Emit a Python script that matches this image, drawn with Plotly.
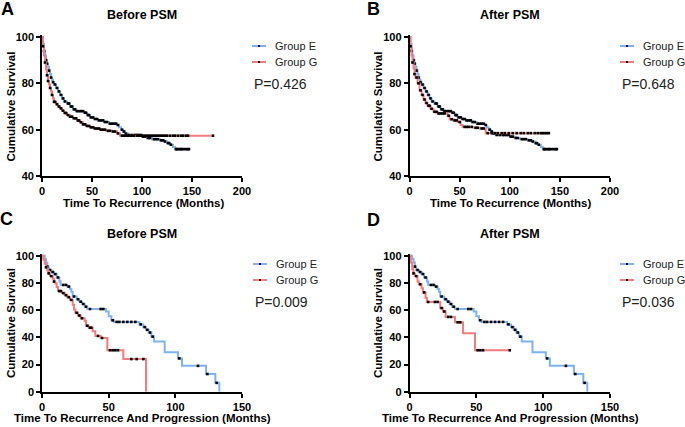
import plotly.graph_objects as go
from plotly.subplots import make_subplots

# ---- Kaplan-Meier step data ----
# Panel A / B : time to recurrence
rec_e_time = [0, 1, 2, 3, 4, 5, 6, 7, 8, 9, 10, 11, 12, 14, 16, 18, 20, 22, 25, 28, 31, 34, 42, 45, 48,
              52, 56, 62, 67, 75, 77, 79, 81, 83, 86, 100, 105, 110, 118, 122, 125, 128, 131, 133, 147]
rec_e_surv = [100, 97, 94, 92, 90, 88.5, 87, 85.5, 84, 82.5, 81.5, 80.5, 79.5, 78, 76.5, 75, 73.5, 72.2,
              71.3, 70, 68.8, 68, 67.3, 66.3, 65.3, 64.6, 64, 63.3, 62.6, 62, 61, 60, 59.2, 58.3, 57.7,
              57, 56.4, 55.9, 55.4, 54.9, 54.2, 53.5, 52.5, 51.6, 51.6]
rec_e_cens = [2, 4, 5, 7, 9, 11, 13, 15, 17, 19, 21, 23, 26, 27, 29, 30, 32, 33, 35, 37, 39, 41, 43, 44,
              46, 47, 49, 51, 53, 55, 57, 59, 61, 63, 65, 68, 70, 72, 74, 76, 80, 82, 84, 87, 90, 93, 95,
              97, 99, 101, 103, 106, 108, 112, 114, 116, 119, 121, 123, 126, 127, 129, 134, 135, 136,
              138, 139, 140, 142, 144, 146, 147]

rec_g_before_time = [0, 1, 2, 3, 4, 5, 6, 7, 8, 9, 10, 11, 12, 14, 16, 18, 20, 22, 25, 28, 31, 35, 38,
                     41, 44, 48, 52, 58, 64, 70, 75, 78, 171]
rec_g_before_surv = [100, 96, 92, 89, 86, 83.5, 81, 79.5, 78, 76.5, 75, 73.5, 72, 71, 70, 69.2, 68.2,
                     67.2, 66.3, 65.6, 64.9, 64, 63.2, 62.3, 61.6, 61, 60.5, 60, 59.5, 59.2, 58.4, 57.4, 57.4]
rec_g_before_cens = [1, 3, 5, 6, 8, 10, 12, 13, 15, 17, 19, 21, 23, 24, 26, 28, 30, 32, 34, 36, 37, 39,
                     41, 43, 45, 47, 49, 51, 53, 55, 57, 59, 61, 63, 66, 68, 71, 73, 76, 80, 82, 84, 86,
                     88, 90, 92, 95, 97, 99, 101, 103, 105, 107, 109, 111, 113, 115, 117, 119, 121, 123,
                     125, 128, 131, 133, 136, 139, 141, 144, 146, 171]

rec_g_after_time = [0, 1, 2, 3, 4, 5, 6, 8, 10, 12, 14, 16, 18, 21, 24, 28, 38, 40, 44, 48, 51, 53, 64,
                    70, 76, 139]
rec_g_after_surv = [100, 96, 92, 89, 86.5, 84, 82.5, 80, 77, 75, 73, 71.5, 70.3, 69, 67.7, 67, 66, 64.5,
                    64, 63.3, 62, 61.2, 60.8, 60.5, 58.5, 58.5]
rec_g_after_cens = [1, 3, 5, 7, 9, 11, 13, 15, 17, 19, 20, 22, 25, 27, 29, 31, 33, 35, 39, 42, 45, 47,
                    50, 55, 57, 59, 62, 66, 68, 72, 74, 78, 82, 85, 88, 92, 95, 99, 103, 107, 111, 114,
                    118, 121, 125, 128, 131, 133, 135, 137, 139]

# Panel C / D : time to recurrence and progression
prog_e_time = [0, 2, 3, 4, 5, 7, 9, 11, 13, 14, 19, 21, 22, 23, 26, 28, 30, 32, 34, 48, 50, 52, 54,
               73, 76, 78, 80, 82, 84, 92, 102, 105, 123, 130, 133]
prog_e_surv = [100, 97.5, 95, 92, 89.5, 88, 86.5, 84, 81, 78.5, 77.3, 75.5, 73.5, 70, 68, 66.2, 64.5,
               62.5, 60.8, 59, 55.5, 52.5, 51.3, 49.5, 47.5, 45.5, 43.5, 40.5, 37, 29, 24.5, 19, 13,
               6.5, 0]
prog_e_cens = [4, 6, 8, 10, 12, 16, 18, 20, 24, 27, 29, 31, 33, 36, 44, 46, 53, 56, 58, 61, 64, 67,
               70, 74, 77, 79, 81, 83, 103, 117, 124, 131]

prog_g_before_time = [0, 1, 2, 3, 4, 5, 6, 8, 9, 10, 11, 12, 15, 17, 19, 21, 23, 24, 25, 27, 29, 32,
                      33, 35, 38, 40, 44, 49, 61, 78]
prog_g_before_surv = [100, 97, 94, 91.5, 89, 87, 85, 83, 81, 79.5, 77, 74, 72.5, 71, 69.5, 67.5, 64,
                      60.4, 58, 56, 54, 52, 48.5, 47, 44.5, 41, 39.5, 30.5, 24, 0]
prog_g_before_cens = [3, 5, 7, 9, 13, 14, 16, 18, 20, 22, 26, 28, 30, 34, 36, 37, 42, 45, 51, 53, 55,
                      57, 67, 71, 76]

prog_g_after_time = [0, 1, 2, 3, 4, 6, 7, 9, 10, 12, 13, 23, 25, 27, 34, 40, 49, 76]
prog_g_after_surv = [100, 95, 90, 87, 85, 81, 79, 76, 73, 69, 66, 61.5, 59, 55, 51, 43, 30.5, 30.5]
prog_g_after_cens = [3, 5, 8, 11, 14, 19, 21, 24, 26, 29, 31, 36, 38, 51, 53, 55, 75]

titles = ["Before PSM", "After PSM", "Before PSM", "After PSM"]
letters = ["A", "B", "C", "D"]
p_values = ["P=0.426", "P=0.648", "P=0.009", "P=0.036"]
x_titles = ["Time To Recurrence (Months)", "Time To Recurrence (Months)",
            "Time To Recurrence And Progression (Months)", "Time To Recurrence And Progression (Months)"]

BLUE = "#7EB3F2"
RED = "#F27C7E"
FONT = "Liberation Sans"
W, H = 685, 427


def surv_at(t, times, survs):
    s = survs[0]
    for tt, ss in zip(times, survs):
        if tt <= t:
            s = ss
    return s


def px(x):
    return x / W


def py(y):
    return 1 - y / H


panels = [
    (rec_e_time, rec_e_surv, rec_e_cens, rec_g_before_time, rec_g_before_surv, rec_g_before_cens),
    (rec_e_time, rec_e_surv, rec_e_cens, rec_g_after_time, rec_g_after_surv, rec_g_after_cens),
    (prog_e_time, prog_e_surv, prog_e_cens, prog_g_before_time, prog_g_before_surv, prog_g_before_cens),
    (prog_e_time, prog_e_surv, prog_e_cens, prog_g_after_time, prog_g_after_surv, prog_g_after_cens),
]

fig = make_subplots(rows=2, cols=2)
cells = [(1, 1), (1, 2), (2, 1), (2, 2)]

for (r, c), (et, es, ec, gt, gs, gc) in zip(cells, panels):
    for t, s, cens, col in [(et, es, ec, BLUE), (gt, gs, gc, RED)]:
        fig.add_trace(go.Scatter(x=t, y=s, mode="lines", line=dict(color=col, width=2, shape="hv"),
                                 showlegend=False, hoverinfo="skip"), row=r, col=c)
        fig.add_trace(go.Scatter(x=cens, y=[surv_at(v, t, s) for v in cens], mode="markers",
                                 marker=dict(symbol="square", size=2.6, color="black"),
                                 showlegend=False, hoverinfo="skip", cliponaxis=False), row=r, col=c)

# axis geometry (pixels)
left_x = [(42, 242), (409.5, 610), (42, 242), (409.5, 610)]
y_pix = [(37, 176), (37, 176), (255.7, 391.7), (255.7, 391.7)]
x_max = [200, 200, 150, 150]
y_min = [40, 40, 0, 0]
y_pad = [0.8, 0.8, 1.5, 1.5]

axis_common = dict(showline=True, linecolor="black", linewidth=1.6, ticks="outside", ticklen=4,
                   tickwidth=1.6, tickcolor="black", showgrid=False, zeroline=False,
                   tickfont=dict(family=FONT, size=11, color="black", weight="bold"), automargin=False)

for i in range(4):
    xa = "xaxis" if i == 0 else f"xaxis{i + 1}"
    ya = "yaxis" if i == 0 else f"yaxis{i + 1}"
    x0, x1 = left_x[i]
    top, bot = y_pix[i]
    per = (bot - top) / (100 - y_min[i])
    top_ext = top - y_pad[i] * per
    fig.layout[xa].update(domain=[px(x0), px(x1)], range=[0, x_max[i]],
                          tickvals=list(range(0, x_max[i] + 1, 50)), **axis_common)
    fig.layout[ya].update(domain=[py(bot), py(top_ext)], range=[y_min[i], 100 + y_pad[i]],
                          tickvals=list(range(y_min[i], 101, 20)), **axis_common)

# text and legends
title_pos = [(142, 15), (510, 15), (142, 234), (510, 234)]
letter_pos = [(8, 9), (373, 9), (6, 219), (373, 220)]
xt_pos = [(143, 203), (510, 203), (142.5, 417.5), (510, 417.5)]
yt_pos = [(11, 106.5), (378, 106.5), (11, 323), (378, 323)]
leg_pos = [(252, 46, 62, 84), (620, 46, 62, 84), (253, 264, 280, 302), (620, 264, 280, 302)]

ann = []
shapes = []
for i in range(4):
    ann.append(dict(x=px(title_pos[i][0]), y=py(title_pos[i][1]), text=titles[i],
                    font=dict(family=FONT, size=12.5, color="black", weight="bold")))
    ann.append(dict(x=px(letter_pos[i][0]), y=py(letter_pos[i][1]), text=letters[i],
                    font=dict(family=FONT, size=18, color="black", weight="bold")))
    ann.append(dict(x=px(xt_pos[i][0]), y=py(xt_pos[i][1]), text=x_titles[i],
                    font=dict(family=FONT, size=11.5, color="black", weight="bold")))
    ann.append(dict(x=px(yt_pos[i][0]), y=py(yt_pos[i][1]), text="Cumulative Survival", textangle=-90,
                    font=dict(family=FONT, size=11.5, color="black", weight="bold")))
    lx, ye, yg, yp = leg_pos[i]
    for yy, col, name in [(ye, BLUE, "Group E"), (yg, RED, "Group G")]:
        shapes.append(dict(type="line", xref="paper", yref="paper", x0=px(lx), x1=px(lx + 14),
                           y0=py(yy), y1=py(yy), line=dict(color=col, width=2)))
        shapes.append(dict(type="rect", xref="paper", yref="paper", x0=px(lx + 6), x1=px(lx + 8),
                           y0=py(yy + 1), y1=py(yy - 1), fillcolor="black", line=dict(width=0)))
        ann.append(dict(x=px(lx + 21), y=py(yy), text=name, xanchor="left",
                        font=dict(family=FONT, size=11, color="#222")))
    ann.append(dict(x=px(lx), y=py(yp), text=p_values[i], xanchor="left",
                    font=dict(family=FONT, size=14, color="#222")))

for a in ann:
    a.setdefault("xanchor", "center")
    a.update(xref="paper", yref="paper", yanchor="middle", showarrow=False)

fig.update_layout(width=W, height=H, margin=dict(l=0, r=0, t=0, b=0), paper_bgcolor="white",
                  plot_bgcolor="white", annotations=ann, shapes=shapes, showlegend=False)

# the page body has a default 8px margin; drop it so the figure fills the window
fig.write_html("out.html", config={"displayModeBar": False},
               post_script="document.body.style.margin='0';document.body.style.overflow='hidden';")
